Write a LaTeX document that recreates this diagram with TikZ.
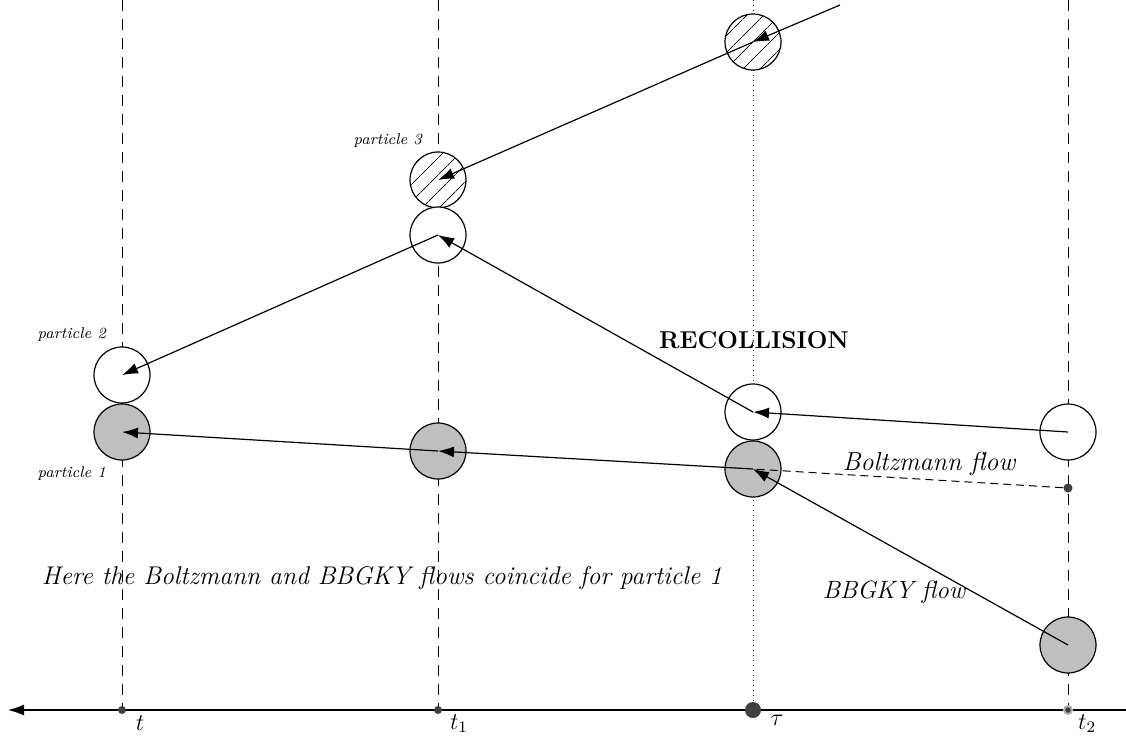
\documentclass[tikz,border=0pt]{standalone}
\usetikzlibrary{arrows.meta,patterns.meta}
\begin{document}
\begin{tikzpicture}[x=0.5pt,y=-0.5pt,
  ball/.style={circle,draw,line width=0.6pt,minimum size=28pt,inner sep=0pt},
  grayball/.style={ball,fill=gray!50},
  whiteball/.style={ball,fill=white},
  hatchball/.style={ball,fill=white,postaction={pattern={Lines[angle=45,distance=6.5pt,line width=0.5pt]}}},
  tline/.style={dashed,dash pattern=on 5.5pt off 4pt,line width=0.5pt},
  flow/.style={line width=0.6pt,-{Latex[length=8pt,width=5.5pt]}},
  lbl/.style={font=\fontsize{7.8}{10}\selectfont\itshape},
  axlbl/.style={font=\fontsize{12}{14}\selectfont,anchor=north,inner sep=0pt},
  axdot/.style={circle,fill=black!75,inner sep=0pt,minimum size=4pt}
]
\useasboundingbox (0,0) rectangle (1126,735);
% vertical lines
\draw[tline] (122,0) -- (122,710);
\draw[tline] (438,0) -- (438,710);
\draw[dotted,line width=0.5pt] (753,0) -- (753,710);
\draw[tline] (1068,0) -- (1068,710);
% axis
\coordinate (axR) at (1126,710);
\coordinate (axL) at (8,710);
\draw[line width=0.6pt,-{Latex[length=8pt,width=5.5pt]}] (axR) -- (axL);
\node[axdot] (a0) at (122,710) {};
\node[axdot] (a1) at (438,710) {};
\node[circle,fill=black!75,inner sep=0pt,minimum size=8pt] (a2) at (753,710) {};
\node[axdot,draw=black!30,line width=1pt] (a3) at (1068,710) {};
\node[axlbl] at (140,715) {$t$};
\node[axlbl] at (459,714) {$t_1$};
\node[axlbl] at (777,715) {$\tau$};
\node[axlbl] at (1087,714) {$t_2$};
% balls
\node[whiteball] (p2a) at (122,375) {};
\node[grayball] (p1a) at (122,432) {};
\node[hatchball] (p3b) at (438,180) {};
\node[whiteball] (p2b) at (438,235) {};
\node[grayball] (p1b) at (438,451) {};
\node[hatchball] (p3c) at (753,42) {};
\node[whiteball] (p2c) at (753,412) {};
\node[grayball] (p1c) at (753,469) {};
\node[whiteball] (p2d) at (1068,432) {};
\node[grayball] (p1d) at (1068,645) {};
\node[circle,fill=black!75,inner sep=0pt,minimum size=4.5pt] (bz) at (1068,488) {};
\coordinate (p3d) at (840,5);
% flows
\draw[flow] (p3d) -- (p3c.center);
\draw[flow] (p3c.center) -- (p3b.center);
\draw[flow] (p2d.center) -- (p2c.center);
\draw[flow] (p2c.center) -- (p2b.center);
\draw[flow] (p2b.center) -- (p2a.center);
\draw[flow] (p1d.center) -- (p1c.center);
\draw[flow] (p1c.center) -- (p1b.center);
\draw[flow] (p1b.center) -- (p1a.center);
\draw[dashed,dash pattern=on 4pt off 2.5pt,line width=0.5pt] (bz) -- (p1c.center);
% labels
\node[lbl,anchor=east] at (113,335) {particle 2};
\node[lbl,anchor=east] at (113,474) {particle 1};
\node[lbl,anchor=east] at (429,141) {particle 3};
\node[font=\fontsize{12.2}{14}\selectfont\bfseries] at (754,340) {RECOLLISION};
\node[font=\fontsize{13}{15}\selectfont\itshape] at (929,464) {Boltzmann flow};
\node[font=\fontsize{12.5}{15}\selectfont\itshape] at (894,592) {BBGKY flow};
\node[font=\fontsize{12.8}{15}\selectfont\itshape] at (382,578) {Here the Boltzmann and BBGKY flows coincide for particle 1};
\end{tikzpicture}
\end{document}
